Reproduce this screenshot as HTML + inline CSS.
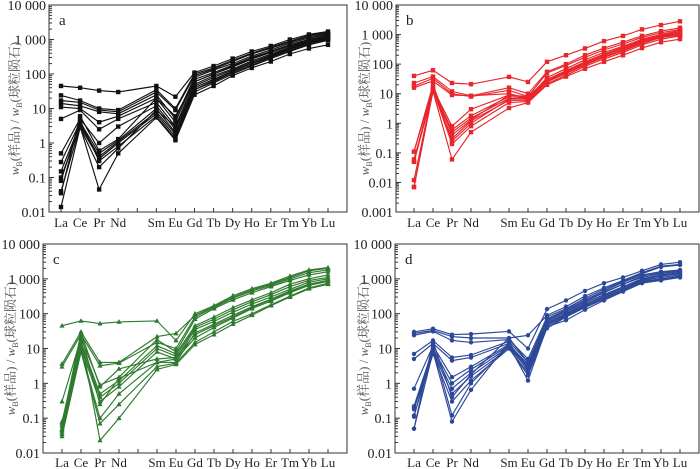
<!DOCTYPE html>
<html><head><meta charset="utf-8"><style>
html,body{margin:0;padding:0;background:#fff}
svg{display:block}
text{font-family:"Liberation Serif","Noto Serif CJK SC",serif;fill:#222}
</style></head><body>
<svg id="chart" width="700" height="469" viewBox="0 0 700 469" xmlns="http://www.w3.org/2000/svg"></svg>
<script>
const elements = ["La","Ce","Pr","Nd","Pm","Sm","Eu","Gd","Tb","Dy","Ho","Er","Tm","Yb","Lu"];
const plotted = ["La","Ce","Pr","Nd","Sm","Eu","Gd","Tb","Dy","Ho","Er","Tm","Yb","Lu"];
const seriesA = [
[45,40,33,30,45,22,110,170,280,450,650,1000,1400,1700],
[24,17,10,9,35,10,100,150,250,400,600,900,1300,1600],
[17,15,9,8,30,9,90,140,230,380,560,850,1200,1500],
[14,12,8,7,25,5,80,130,200,330,500,780,1100,1400],
[11,10,4,6,20,4,70,110,180,300,450,700,1000,1300],
[5,9,2.5,5,15,3,60,100,160,270,420,650,950,1200],
[0.5,5,1,3,12,2.5,50,90,140,240,380,600,900,1150],
[0.28,4,0.5,1.2,10,2,45,80,130,220,350,560,850,1100],
[0.15,3.5,0.4,1.1,8,1.8,40,70,120,200,320,520,800,1050],
[0.1,3,0.35,1,7,1.5,35,60,110,180,300,480,750,1000],
[0.08,4.5,0.3,0.8,6,1.3,30,55,100,170,280,450,700,950],
[0.04,3,0.045,0.5,5.5,1.2,25,45,90,150,230,380,550,700],
[0.014,2.8,0.2,0.7,9,3,35,65,120,200,330,550,850,1100],
[0.035,6,0.6,1.3,20,6,60,100,170,280,450,700,1000,1300]
];
const seriesB = [
[40,62,23,21,37,25,120,200,340,600,900,1500,2100,2800],
[23,38,12,8.5,16,10,55,100,200,350,550,900,1300,1700],
[18,33,10,8,13,8,50,90,170,300,480,800,1150,1500],
[16,27,9,8.5,10,7,35,70,140,250,400,700,1000,1400],
[0.11,15,0.8,3,9,8,30,60,120,220,370,650,950,1250],
[0.06,13,0.6,1.8,8,7,28,55,110,200,340,600,900,1150],
[0.05,12,0.5,1.5,7,6.5,26,50,100,180,300,550,850,1000],
[0.012,14,0.3,1.2,6,6,25,48,95,170,280,500,800,950],
[0.007,13,0.2,0.8,5,5.5,22,42,85,150,250,450,700,900],
[0.007,12,0.06,0.5,3.3,5,20,38,70,120,200,350,550,700],
[0.05,16,0.25,1,6.5,7,30,55,100,180,300,520,800,1000],
[0.11,20,0.4,1.3,9,7.5,28,60,110,210,330,580,880,1100]
];
const seriesC = [
[45,62,52,58,62,17,100,170,330,520,750,1200,1800,2100],
[3.6,30,4,4,22,27,90,160,300,480,700,1100,1700,2000],
[3,25,3.2,3.8,15,10,80,150,280,450,650,1000,1500,1800],
[0.3,20,0.9,1.5,18,8,70,140,250,400,600,900,1300,1600],
[0.08,15,0.5,1.2,12,7,45,80,150,250,400,700,1000,1300],
[0.06,12,0.4,1,10,6,40,70,130,220,350,600,900,1100],
[0.05,10,0.3,0.8,8,5,35,60,110,190,300,500,800,1000],
[0.04,9,0.1,0.5,4,4,28,50,90,160,260,450,700,900],
[0.03,8,0.07,0.25,3,3.8,15,30,60,100,180,320,550,750],
[0.035,20,0.023,0.1,2.5,3.5,13,25,50,90,170,300,520,700],
[0.045,25,0.25,1.4,4,5,20,40,75,140,230,400,650,850],
[0.07,28,0.8,2.6,5,5.5,25,45,80,150,250,420,700,900]
];
const seriesD = [
[30,37,25,26,31,10,135,240,450,750,1100,1700,2600,3000],
[27,33,22,20,20,24,90,160,320,550,900,1500,2300,2600],
[24,31,17,15,18,5,80,140,280,500,850,1400,2200,2500],
[7,17,5.5,6.5,16,4,70,130,250,450,800,1300,1600,1800],
[5,14,4.5,5.5,14,3,60,110,220,400,700,1200,1500,1700],
[0.7,12,1.5,3,13,3.5,55,100,200,350,600,1000,1300,1500],
[0.22,10,1,2.5,12,2.8,50,95,180,320,550,950,1200,1400],
[0.2,9,0.7,2,11,2.5,45,90,170,300,500,900,1100,1300],
[0.18,8,0.5,1.6,10,2,40,85,160,280,480,850,1000,1200],
[0.12,7,0.3,1.2,10,1.7,38,80,150,260,450,800,950,1150],
[0.11,11,0.12,1,12,1.2,42,65,130,240,430,750,900,1100],
[0.05,8,0.08,0.65,15,2.2,50,100,200,350,550,950,1250,1400],
[0.05,16,0.4,1.8,20,4,65,120,230,420,700,1100,1400,1600]
];
const tickLabelsA = ["0.01","0.1","1","10","100","1 000","10 000"];
const tickLabelsB = ["0.001","0.01","0.1","1","10","100","1 000","10 000"];

const NS = "http://www.w3.org/2000/svg";
const svg = document.getElementById("chart");
function mk(tag, attrs, parent){
  const e = document.createElementNS(NS, tag);
  for (const k in attrs) e.setAttribute(k, attrs[k]);
  (parent||svg).appendChild(e);
  return e;
}

const panels = [
  {id:"a", data:seriesA, ticks:tickLabelsA, ymin:-2, ymax:4, x0:49, x1:347, y0:5, y1:212, la:61, lu:328, color:"#111", marker:"square", titleX:14, lblOff:15},
  {id:"b", data:seriesB, ticks:tickLabelsB, ymin:-3, ymax:4, x0:396, x1:699, y0:5, y1:212, la:414, lu:680, color:"#e8262b", marker:"square", titleX:364, lblOff:15},
  {id:"c", data:seriesC, ticks:tickLabelsA, ymin:-2, ymax:4, x0:43, x1:347, y0:244, y1:453, la:62, lu:328, color:"#2f7a2f", marker:"triangle", titleX:10, lblOff:14},
  {id:"d", data:seriesD, ticks:tickLabelsA, ymin:-2, ymax:4, x0:395, x1:699, y0:244, y1:453, la:414, lu:680, color:"#2d4898", marker:"circle", titleX:363, lblOff:14}
];

panels.forEach(p => {
  const g = mk("g", {});
  
  
  const step = (p.lu - p.la) / (elements.length - 1);
  const xOf = el => p.la + elements.indexOf(el) * step;
  const yOf = v => p.y1 - (Math.log10(v) - p.ymin) / (p.ymax - p.ymin) * (p.y1 - p.y0);

  const box = mk("rect", {x:p.x0, y:p.y0, width:p.x1-p.x0, height:p.y1-p.y0, fill:"none", stroke:"#333", "stroke-width":1}, g);
  
  

  for (let d = p.ymin; d <= p.ymax; d++) {
    const y = p.y1 - (d - p.ymin) / (p.ymax - p.ymin) * (p.y1 - p.y0);
    mk("line", {x1:p.x0, x2:p.x0+5, y1:y, y2:y, stroke:"#333"}, g);
    const t = mk("text", {x:p.x0-3, y:y+5, "text-anchor":"end", "font-size":14}, g);
    t.textContent = p.ticks[d - p.ymin];
    
    
    if (d < p.ymax) for (let m = 2; m <= 9; m++) {
      const ym = p.y1 - (d + Math.log10(m) - p.ymin) / (p.ymax - p.ymin) * (p.y1 - p.y0);
      mk("line", {x1:p.x0, x2:p.x0+3, y1:ym, y2:ym, stroke:"#333"}, g);
    }
  }
  elements.forEach(el => {
    const x = xOf(el);
    mk("line", {x1:x, x2:x, y1:p.y1, y2:p.y1-4, stroke:"#333"}, g);
    if (el !== "Pm") {
      const t = mk("text", {x:x, y:p.y1+p.lblOff, "text-anchor":"middle", "font-size":13}, g);
      t.textContent = el;
      
      
    }
  });
  const lt = mk("text", {x:p.x0+10, y:p.y0+20, "font-size":15}, g);
  lt.textContent = p.id;
  
  
  const cy = (p.y0 + p.y1) / 2;
  const yt = mk("text", {x:0, y:0, "text-anchor":"middle", "font-size":13, fill:"#555", style:"fill:#555", transform:`translate(${p.titleX},${cy}) rotate(-90)`, dy:"5"}, g);
  
  
  yt.innerHTML = '<tspan font-style="italic">w</tspan><tspan font-size="8" dy="3">B</tspan><tspan dy="-3">(样品) / </tspan><tspan font-style="italic">w</tspan><tspan font-size="8" dy="3">B</tspan><tspan dy="-3">(球粒陨石)</tspan>';

  p.data.forEach((vals, si) => {
    const sg = mk("g", {}, g);
    
    
    const pts = vals.map((v, i) => [xOf(plotted[i]), yOf(v)]);
    mk("polyline", {points: pts.map(q => q[0].toFixed(1)+","+q[1].toFixed(1)).join(" "), fill:"none", stroke:p.color, "stroke-width":1.15}, sg);
    pts.forEach(q => {
      let m;
      if (p.marker === "square") m = mk("rect", {x:q[0]-2.2, y:q[1]-2.2, width:4.4, height:4.4, fill:p.color}, sg);
      else if (p.marker === "triangle") m = mk("polygon", {points:`${q[0]},${q[1]-2.8} ${q[0]-2.6},${q[1]+1.9} ${q[0]+2.6},${q[1]+1.9}`, fill:p.color}, sg);
      else m = mk("circle", {cx:q[0], cy:q[1], r:2.2, fill:p.color}, sg);
      
      
    });
  });
});
</script>
</body></html>
